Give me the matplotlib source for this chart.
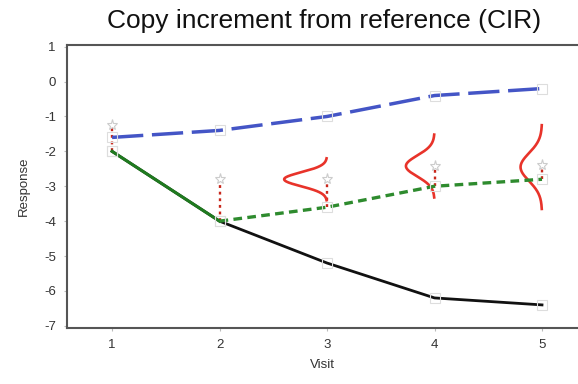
import numpy as np
import matplotlib.pyplot as plt

plt.rcParams['font.family'] = ['Liberation Sans', 'DejaVu Sans']

visits = [1, 2, 3, 4, 5]
reference = [-1.6, -1.4, -1.0, -0.4, -0.2]
control = [-2.0, -4.0, -5.2, -6.2, -6.4]
treated = [-2.0, -4.0, -3.6, -3.0, -2.8]
increment_top = [-1.25, -2.8, -2.8, -2.42, -2.4]
increment_base = [-2.0, -4.0, -3.6, -3.0, -2.8]
density_visits = [3, 4, 5]
density_centre = [-2.8, -2.42, -2.45]
density_sd = [0.2, 0.3, 0.4]
yticks = [1, 0, -1, -2, -3, -4, -5, -6, -7]

fig = plt.figure(figsize=(5.78, 3.84), dpi=100)
ax = fig.add_axes([0.116, 0.146, 0.884, 0.737])

spine_col = '#555555'
marker_col = '#dddddd'

# red dotted increments with star on top
for x, lo, hi in zip(visits, increment_base, increment_top):
    ax.plot([x, x], [lo, hi], ls=(0, (1.2, 1.6)), color='#c8281c', lw=1.7, zorder=2)
ax.plot(visits, increment_top, ls='none', marker='*', ms=8, mfc='white',
        mec='#cccccc', mew=0.8, zorder=3)

# lines
ax.plot(visits, control, color='#111111', lw=2.0, zorder=4)
ax.plot(visits[:2], treated[:2], color='#1f7a1f', lw=2.2, zorder=5)
ax.plot(visits[1:], treated[1:], color='#2e8b2e', lw=2.4,
        ls=(0, (2.6, 1.6)), zorder=5)
ax.plot(visits, reference, color='#4455c6', lw=2.5,
        ls=(0, (9, 2.5)), zorder=5)

# square markers
for ys in (reference, control, treated):
    ax.plot(visits, ys, ls='none', marker='s', ms=6.5, mfc='none',
            mec=marker_col, mew=0.8, zorder=6)

# density curves
for x, c, sd in zip(density_visits, density_centre, density_sd):
    yy = np.linspace(c - 3 * sd, c + 3 * sd, 200)
    dens = 0.2 * np.exp(-0.5 * ((yy - c) / sd) ** 2) / (sd * np.sqrt(2 * np.pi))
    ax.plot(x - dens, yy, color='#e8332a', lw=1.9, zorder=4)

ax.set_xlim(0.581, 5.335)
ax.set_ylim(-7.06, 1.05)
ax.set_xticks(visits)
ax.set_yticks(yticks)
ax.set_yticklabels([str(t) for t in yticks])
ax.tick_params(length=2, width=0.8, color='#bbbbbb', labelsize=9.5,
               labelcolor='#333333', pad=6)

ax.spines['right'].set_visible(False)
for s in ('left', 'top', 'bottom'):
    ax.spines[s].set_color(spine_col)
    ax.spines[s].set_linewidth(1.5)

ax.set_xlabel('Visit', fontsize=9.5, color='#333333', labelpad=6)
ax.set_ylabel('Response', fontsize=9.5, color='#333333', labelpad=10)
fig.text(0.56, 0.945, 'Copy increment from reference (CIR)', ha='center',
         va='center', fontsize=19, color='#111111')

fig.savefig('out.png', dpi=100)
